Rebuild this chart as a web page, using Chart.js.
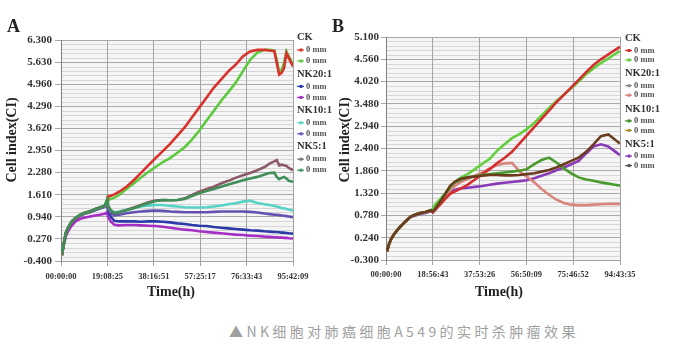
<!DOCTYPE html>
<html>
<head>
<meta charset="utf-8">
<script src="https://cdn.jsdelivr.net/npm/chart.js@4"></script>
<style>
  html, body { margin: 0; padding: 0; background: #fff; }
  body { width: 699px; height: 364px; position: relative; overflow: hidden; }
  #chartA { position: absolute; left: 0; top: 0; }
  #chartB { position: absolute; left: 328px; top: 0; }
  .caption {
    position: absolute; left: 229px; top: 321px;
    font: 14px "Noto Sans CJK SC", sans-serif; color: #a0a0a0;
    letter-spacing: 3.4px; white-space: nowrap;
  }
</style>
</head>
<body>
<canvas id="chartA" width="340" height="310"></canvas>
<canvas id="chartB" width="371" height="310"></canvas>
<div class="caption">▲NK细胞对肺癌细胞A549的实时杀肿瘤效果</div>
<script>
// ---- panel A data (time in hours, cell index) ----
const timesA = [0, 0.6, 1.2, 2, 3, 4.5, 6, 8, 10, 12, 14, 16, 18, 19.1, 19.3, 20.5, 22, 24, 27, 30, 33, 36, 39, 42, 45, 48, 51, 54, 57, 60, 63, 66, 69, 72, 75, 78, 81, 84, 86, 88, 89, 90, 91, 92, 93, 94, 95.7];
const ckRedA = [-0.02, -0.12, 0.15, 0.45, 0.62, 0.8, 0.9, 1.0, 1.06, 1.1, 1.17, 1.22, 1.27, 1.38,
  1.55, 1.58, 1.62, 1.7, 1.85, 2.05, 2.27, 2.5, 2.72, 2.93, 3.15, 3.4, 3.65, 3.95, 4.25, 4.55, 4.85, 5.1, 5.35, 5.55,
  5.8, 5.95, 6.0, 6.0, 5.98, 5.97, 5.6, 5.25, 5.3, 5.45, 5.9, 5.75, 5.5];
const ckGreenA = [-0.02, -0.12, 0.15, 0.45, 0.62, 0.8, 0.9, 1.0, 1.06, 1.1, 1.17, 1.22, 1.27, 1.5,
  1.45, 1.48, 1.52, 1.6, 1.78, 1.95, 2.13, 2.3, 2.45, 2.6, 2.72, 2.88, 3.05, 3.28, 3.55, 3.85, 4.15, 4.45, 4.72, 5.0,
  5.35, 5.7, 5.92, 6.0, 6.0, 5.98, 5.7, 5.3, 5.4, 5.6, 5.95, 5.8, 5.55];
const nk20BlueA = [-0.03, -0.12, 0.13, 0.43, 0.6, 0.78, 0.88, 0.98, 1.04, 1.08, 1.14, 1.19, 1.24, 1.3,
  1.15, 0.95, 0.82, 0.8, 0.8, 0.8, 0.79, 0.8, 0.8, 0.79, 0.77, 0.74, 0.72, 0.69, 0.67, 0.66, 0.63, 0.61, 0.59, 0.57,
  0.55, 0.53, 0.52, 0.5, 0.49, 0.48, 0.48, 0.47, 0.46, 0.46, 0.45, 0.44, 0.43];
const nk20PurpleA = [-0.05, -0.12, 0.1, 0.35, 0.52, 0.68, 0.8, 0.88, 0.92, 0.95, 0.98, 1.0, 1.03, 1.08,
  0.95, 0.8, 0.7, 0.68, 0.69, 0.69, 0.68, 0.67, 0.66, 0.64, 0.61, 0.58, 0.55, 0.53, 0.5, 0.48, 0.46, 0.44, 0.42, 0.4,
  0.39, 0.37, 0.36, 0.34, 0.33, 0.32, 0.32, 0.31, 0.31, 0.3, 0.3, 0.29, 0.28];
const nk10CyanA = [-0.02, -0.1, 0.16, 0.45, 0.62, 0.8, 0.9, 1.0, 1.05, 1.1, 1.16, 1.21, 1.26, 1.35,
  1.25, 1.12, 1.08, 1.1, 1.15, 1.2, 1.25, 1.28, 1.3, 1.3, 1.27, 1.25, 1.23, 1.22, 1.22, 1.23, 1.25, 1.28, 1.32, 1.35,
  1.4, 1.43, 1.36, 1.32, 1.3, 1.27, 1.25, 1.23, 1.2, 1.2, 1.18, 1.16, 1.13];
const nk10SlateA = [-0.03, -0.11, 0.14, 0.44, 0.61, 0.79, 0.89, 0.99, 1.05, 1.09, 1.15, 1.2, 1.25, 1.3,
  1.2, 1.05, 0.98, 1.0, 1.05, 1.08, 1.1, 1.12, 1.13, 1.12, 1.1, 1.09, 1.08, 1.08, 1.08, 1.08, 1.09, 1.1, 1.1, 1.1,
  1.1, 1.09, 1.07, 1.04, 1.02, 1.0, 1.0, 0.99, 0.98, 0.97, 0.96, 0.95, 0.93];
const nk5MauveA = [-0.02, -0.11, 0.15, 0.45, 0.62, 0.8, 0.9, 1.0, 1.06, 1.1, 1.17, 1.22, 1.27, 1.35,
  1.25, 1.12, 1.05, 1.08, 1.15, 1.22, 1.3, 1.38, 1.43, 1.45, 1.44, 1.45, 1.5, 1.6, 1.7, 1.78, 1.85, 1.95, 2.03, 2.12,
  2.2, 2.27, 2.35, 2.45, 2.55, 2.62, 2.66, 2.5, 2.52, 2.5, 2.48, 2.42, 2.35];
const nk5GreenA = [-0.02, -0.12, 0.16, 0.46, 0.63, 0.81, 0.91, 1.01, 1.07, 1.11, 1.17, 1.22, 1.28, 1.45,
  1.3, 1.15, 1.05, 1.07, 1.14, 1.2, 1.28, 1.35, 1.42, 1.45, 1.44, 1.45, 1.48, 1.57, 1.65, 1.72, 1.78, 1.85, 1.92, 1.98,
  2.05, 2.1, 2.15, 2.22, 2.27, 2.28, 2.15, 2.08, 2.12, 2.15, 2.1, 2.03, 2.0];
const xTickLabelsA = ['00:00:00', '19:08:25', '38:16:51', '57:25:17', '76:33:43', '95:42:09'];
const yTickLabelsA = ['-0.400', '0.270', '0.940', '1.610', '2.280', '2.950', '3.620', '4.290', '4.960', '5.630', '6.300'];

// ---- panel B data ----
const timesB = [0, 0.6, 1.2, 2, 3, 4.5, 6, 8, 10, 12, 14, 16, 18, 19, 20, 22, 24, 26, 28, 30, 33, 36, 39, 42, 45, 48, 51, 54, 57, 60, 63, 66, 69, 72, 75, 78, 81, 84, 87, 90, 92, 94.7];
const ckRedB = [-0.02, -0.05, 0.08, 0.2, 0.3, 0.42, 0.52, 0.64, 0.75, 0.8, 0.84, 0.86, 0.9,
  0.85, 0.92, 1.05, 1.18, 1.3, 1.36, 1.42, 1.52, 1.65, 1.78, 1.9, 2.05, 2.17, 2.32, 2.52, 2.72, 2.92, 3.12, 3.32, 3.52,
  3.7, 3.88, 4.06, 4.25, 4.42, 4.56, 4.68, 4.76, 4.86];
const ckGreenB = [-0.02, -0.05, 0.08, 0.2, 0.3, 0.42, 0.52, 0.64, 0.75, 0.8, 0.84, 0.86, 0.9,
  0.95, 1.05, 1.18, 1.32, 1.48, 1.6, 1.68, 1.78, 1.9, 2.03, 2.15, 2.35, 2.5, 2.65, 2.75, 2.87, 3.02, 3.2, 3.38, 3.55,
  3.7, 3.86, 4.02, 4.2, 4.34, 4.47, 4.58, 4.66, 4.76];
const nk20PinkB = [-0.02, -0.05, 0.08, 0.2, 0.3, 0.42, 0.52, 0.64, 0.75, 0.8, 0.84, 0.86, 0.9,
  0.88, 0.95, 1.08, 1.22, 1.38, 1.5, 1.58, 1.66, 1.74, 1.82, 1.92, 2.0, 2.04, 2.05, 1.85, 1.72, 1.58, 1.42, 1.28, 1.16,
  1.08, 1.04, 1.03, 1.03, 1.04, 1.05, 1.06, 1.06, 1.06];
const nk10GreenB = [-0.02, -0.05, 0.08, 0.2, 0.3, 0.42, 0.52, 0.64, 0.75, 0.8, 0.84, 0.86, 0.9,
  0.88, 0.96, 1.12, 1.3, 1.47, 1.58, 1.64, 1.7, 1.73, 1.76, 1.78, 1.8, 1.82, 1.84, 1.86, 1.9, 2.02, 2.12, 2.18, 2.06,
  1.92, 1.8, 1.7, 1.65, 1.62, 1.58, 1.55, 1.53, 1.5];
const nk10BrownB = [-0.02, -0.05, 0.08, 0.2, 0.3, 0.42, 0.52, 0.64, 0.75, 0.8, 0.84, 0.86, 0.9,
  0.88, 0.95, 1.12, 1.3, 1.5, 1.6, 1.66, 1.7, 1.72, 1.74, 1.76, 1.76, 1.75, 1.75, 1.76, 1.78, 1.8, 1.84, 1.88, 1.94,
  2.02, 2.1, 2.18, 2.32, 2.5, 2.7, 2.74, 2.65, 2.52];
const nk5PurpleB = [-0.02, -0.05, 0.08, 0.2, 0.3, 0.42, 0.52, 0.64, 0.74, 0.78, 0.82, 0.84, 0.88,
  0.86, 0.92, 1.08, 1.24, 1.35, 1.4, 1.43, 1.45, 1.47, 1.49, 1.52, 1.55, 1.57, 1.59, 1.61, 1.63, 1.68, 1.74, 1.8, 1.87,
  1.94, 2.02, 2.1, 2.28, 2.45, 2.5, 2.45, 2.36, 2.24];
const xTickLabelsB = ['00:00:00', '18:56:43', '37:53:26', '56:50:09', '75:46:52', '94:43:35'];
const yTickLabelsB = ['-0.300', '0.240', '0.780', '1.320', '1.860', '2.400', '2.940', '3.480', '4.020', '4.560', '5.100'];

// legend (same groups in both panels)
const legendGroups = ['CK', 'NK20:1', 'NK10:1', 'NK5:1'];
const legendColorsA = ['#d9312b', '#5cc93e', '#2b3aa8', '#a52fc4', '#56d2c6', '#6a58c0', '#777777', '#3f9a60'];
const legendColorsB = ['#d42e2e', '#62cf3c', '#8a8a8a', '#d8807a', '#3f8f2a', '#a89030', '#8a3ab8', '#555555'];

const serif = '"Liberation Serif", "Times New Roman", serif';
const toHours = s => { const [h, m, sec] = s.split(':').map(Number); return h + m / 60 + sec / 3600; };

// background, minor grid, titles, letter and legend
const panelDecor = {
  id: 'panelDecor',
  beforeDraw(chart, args, o) {
    const { ctx, chartArea: a, scales: { y } } = chart;
    ctx.save();
    ctx.fillStyle = '#f5f5f5';
    ctx.fillRect(a.left, a.top, a.right - a.left, a.bottom - a.top);
    ctx.strokeStyle = '#d6d6d6';
    ctx.lineWidth = 1;
    for (let i = 0; i < o.yTicks.length - 1; i++) {
      for (let k = 1; k < 5; k++) {
        const v = o.yTicks[i] + (o.yTicks[i + 1] - o.yTicks[i]) * k / 5;
        const py = Math.round(y.getPixelForValue(v)) + 0.5;
        ctx.beginPath(); ctx.moveTo(a.left, py); ctx.lineTo(a.right, py); ctx.stroke();
      }
    }
    ctx.restore();
  },
  afterDraw(chart, args, o) {
    const ctx = chart.ctx;
    ctx.save();
    ctx.fillStyle = '#222';
    ctx.textBaseline = 'middle';
    ctx.font = 'bold 18px ' + serif;
    ctx.fillText(o.letter, o.letterX, 27);

    ctx.font = 'bold 14px ' + serif;
    ctx.textAlign = 'center';
    ctx.fillText('Time(h)', o.xTitleX, 292);
    ctx.save();
    ctx.translate(o.yTitleX, 140);
    ctx.rotate(-Math.PI / 2);
    ctx.fillText('Cell index(CI)', 0, 0);
    ctx.restore();

    // grouped legend on the right
    ctx.textAlign = 'left';
    legendGroups.forEach((name, g) => {
      const hy = o.legendTop + g * o.legendStep;
      ctx.fillStyle = '#333';
      ctx.font = 'bold 10.5px ' + serif;
      ctx.fillText(name, o.legendX, hy);
      o.itemDy.forEach((dy, k) => {
        const col = o.colors[g * 2 + k];
        const iy = hy + dy;
        ctx.strokeStyle = col;
        ctx.lineWidth = 1.2;
        ctx.beginPath(); ctx.moveTo(o.legendX, iy); ctx.lineTo(o.legendX + 7, iy); ctx.stroke();
        ctx.fillStyle = col;
        ctx.fillRect(o.legendX + 2.5, iy - 1.5, 3, 3);
        ctx.fillStyle = '#555';
        ctx.font = 'bold 8.5px ' + serif;
        ctx.fillText('0 mm', o.legendX + 9, iy);
      });
    });
    ctx.restore();
  }
};

function drawPanel(canvasId, p) {
  const xTicks = p.xLabels.map(toHours);
  const yTicks = p.yLabels.map(Number);
  const datasets = p.series.map(s => ({
    data: s.values.map((v, i) => ({ x: p.times[i], y: v })),
    borderColor: s.color,
    borderWidth: 2.6,
    pointRadius: 0,
    fill: false,
    tension: 0,
    order: s.order
  }));

  return new Chart(document.getElementById(canvasId), {
    type: 'line',
    data: { datasets },
    options: {
      responsive: false,
      animation: false,
      events: [],
      layout: { padding: { left: 0, right: p.padRight, top: p.padTop, bottom: 0 } },
      plugins: {
        legend: { display: false },
        tooltip: { enabled: false },
        panelDecor: {
          yTicks, letter: p.letter, letterX: p.letterX, xTitleX: p.xTitleX, yTitleX: p.yTitleX,
          legendX: p.legendX, legendTop: p.legendTop, legendStep: p.legendStep, itemDy: p.itemDy, colors: p.legendColors
        }
      },
      scales: {
        x: {
          type: 'linear',
          min: 0,
          max: xTicks[xTicks.length - 1],
          afterBuildTicks: sc => { sc.ticks = xTicks.map(value => ({ value })); },
          afterFit: sc => { sc.height = p.xAxisHeight; },
          ticks: {
            callback: (v, i) => p.xLabels[i],
            autoSkip: false, maxRotation: 0, padding: p.xPad,
            color: '#333', font: { family: serif, size: 8.5, weight: 'bold' }
          },
          grid: { color: '#a3a3a3', tickLength: 5 },
          border: { color: '#a3a3a3' }
        },
        y: {
          min: yTicks[0],
          max: yTicks[yTicks.length - 1],
          afterBuildTicks: sc => { sc.ticks = yTicks.map(value => ({ value })); },
          afterFit: sc => { sc.width = p.yAxisWidth; },
          ticks: {
            callback: (v, i) => p.yLabels[i],
            padding: p.yPad,
            color: '#333', font: { family: serif, size: 11, weight: 'bold' }
          },
          grid: { color: '#a8a8a8', tickLength: p.yTickLen },
          border: { color: '#808080' }
        }
      }
    },
    plugins: [panelDecor]
  });
}

drawPanel('chartA', {
  times: timesA,
  series: [
    { values: ckRedA, color: '#d9312b', order: 2 },
    { values: ckGreenA, color: '#5cc93e', order: 3 },
    { values: nk20BlueA, color: '#2b3aa8', order: 6 },
    { values: nk20PurpleA, color: '#a52fc4', order: 7 },
    { values: nk10CyanA, color: '#56d2c6', order: 4 },
    { values: nk10SlateA, color: '#6450b0', order: 5 },
    { values: nk5MauveA, color: '#8c5a66', order: 1 },
    { values: nk5GreenA, color: '#3f8f58', order: 0 }
  ],
  xLabels: xTickLabelsA, yLabels: yTickLabelsA, legendColors: legendColorsA,
  padTop: 40, padRight: 47, xAxisHeight: 49, yAxisWidth: 61, xPad: 6, yPad: 3, yTickLen: 6,
  letter: 'A', letterX: 7, xTitleX: 171, yTitleX: 12,
  legendX: 297, legendTop: 37.5, legendStep: 36.4, itemDy: [12.5, 23.5]
});

drawPanel('chartB', {
  times: timesB,
  series: [
    { values: ckRedB, color: '#d42e2e', order: 2 },
    { values: ckGreenB, color: '#62cf3c', order: 3 },
    { values: nk20PinkB, color: '#d8857d', order: 4 },
    { values: nk10GreenB, color: '#4a9a2e', order: 1 },
    { values: nk10BrownB, color: '#6b3d1f', order: 0 },
    { values: nk5PurpleB, color: '#8a3ab8', order: 5 }
  ],
  xLabels: xTickLabelsB, yLabels: yTickLabelsB, legendColors: legendColorsB,
  padTop: 37, padRight: 79, xAxisHeight: 50, yAxisWidth: 58, xPad: 5, yPad: 2, yTickLen: 5,
  letter: 'B', letterX: 4, xTitleX: 171, yTitleX: 17,
  legendX: 297, legendTop: 38.5, legendStep: 35.2, itemDy: [12, 21.5]
});
</script>
</body>
</html>
